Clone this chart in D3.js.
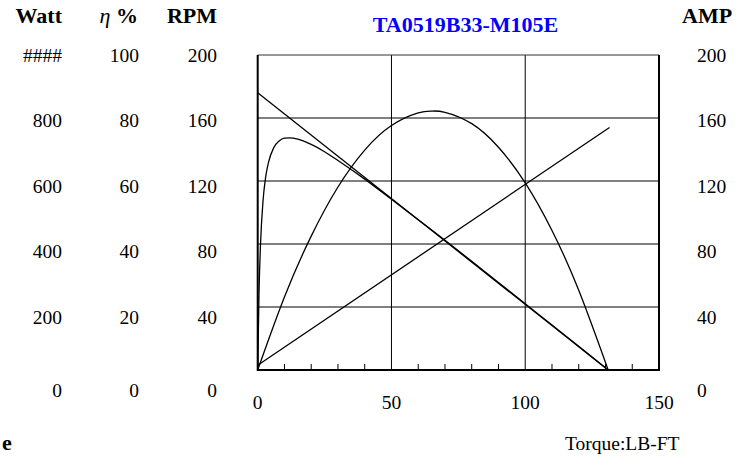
<!DOCTYPE html>
<html>
<head>
<meta charset="utf-8">
<script src="https://cdn.jsdelivr.net/npm/d3@7"></script>
<style>
  body { margin: 0; background: #fff; }
  svg { display: block; font-family: "Liberation Serif", "Times New Roman", serif; }
</style>
</head>
<body>
<div id="chart1"></div>
<script>
var w = 747,
  h = 456;

// plot area (plotTop, not top: window.top is read-only)
var plotLeft = 257.7, plotRight = 659, plotTop = 55, plotBottom = 370;

// data
var title = "TA0519B33-M105E";
var xTicks = [0, 50, 100, 150];
var xMinor = [10, 20, 30, 40, 60, 70, 80, 90, 110, 120, 130, 140];
var gridValues = [40, 80, 120, 160];

var wattLabels = ["####", "800", "600", "400", "200", "0"];
var effLabels = ["100", "80", "60", "40", "20", "0"];
var rpmLabels = ["200", "160", "120", "80", "40", "0"];
var ampLabels = ["200", "160", "120", "80", "40", "0"];
var rowValues = [200, 160, 120, 80, 40, 0];

var speedTorque = [0, 131];
var speedRpm = [176, 0];

var currentTorque = [0, 131.5];
var currentAmp = [3, 154];

var effTorque = [0, 0.5, 1, 2, 3, 4, 6, 8, 10, 12, 15, 20, 25, 30, 40, 50, 60, 70, 80, 90, 100, 110, 120, 131];
var effPct = [0, 25, 38.8, 53.8, 61.4, 65.8, 70.6, 72.7, 73.6, 73.7, 73.3, 71.6, 69.3, 66.5, 60.6, 54.2, 47.7, 41.2, 34.5, 27.8, 21.0, 14.3, 7.5, 0];

var powTorque = [0, 10, 20, 30, 40, 50, 60, 65, 70, 80, 90, 100, 110, 120, 131];
var powWatt = [0, 232, 425, 581, 698, 776, 816, 822, 818, 782, 707, 594, 443, 253, 0];

var regSize = "19.5px", boldSize = "22px";

draw();

function zip(xs, ys) {
  return xs.map(function (d, i) { return [d, ys[i]]; });
}

function column(container, labels, x, anchor, rowY) {
  container.append("g").selectAll("text").data(labels).enter().append("text")
    .attr("x", x).attr("y", function (d, i) { return rowY(rowValues[i]); })
    .attr("dy", "0.35em").attr("text-anchor", anchor)
    .style("font-size", regSize).text(function (d) { return d; });
}

function draw() {
  var svg = d3.select("#chart1").append("svg").attr("width", w).attr("height", h);

  var x = d3.scaleLinear().domain([0, 150]).range([plotLeft, plotRight]);
  var yRpm = d3.scaleLinear().domain([0, 200]).range([plotBottom, plotTop]);
  var yEff = d3.scaleLinear().domain([0, 100]).range([plotBottom, plotTop]);
  var yWatt = d3.scaleLinear().domain([0, 1000]).range([plotBottom, plotTop]);
  var yAmp = d3.scaleLinear().domain([0, 200]).range([plotBottom, plotTop]);
  // label rows sit a little off the grid, spacing widens towards the bottom
  var rowY = d3.scaleLinear().domain([0, 40, 200]).range([390, 317, 55]);

  // grid
  var grid = svg.append("g").style("stroke", "#000").style("stroke-width", 1);
  grid.selectAll("line.h").data(gridValues).enter().append("line").attr("class", "h")
    .attr("x1", plotLeft).attr("x2", plotRight)
    .attr("y1", function (d) { return yRpm(d); }).attr("y2", function (d) { return yRpm(d); });
  grid.selectAll("line.v").data([50, 100]).enter().append("line").attr("class", "v")
    .attr("y1", plotTop).attr("y2", plotBottom)
    .attr("x1", function (d) { return x(d); }).attr("x2", function (d) { return x(d); });
  grid.selectAll("line.m").data(xMinor).enter().append("line").attr("class", "m")
    .attr("y1", plotBottom).attr("y2", plotBottom - 6)
    .attr("x1", function (d) { return x(d); }).attr("x2", function (d) { return x(d); });

  // border: thin on top, heavier on the other sides
  svg.append("line").attr("x1", plotLeft).attr("x2", plotRight).attr("y1", plotTop).attr("y2", plotTop)
    .style("stroke", "#333").style("stroke-width", 1);
  svg.append("path").attr("d", "M" + plotLeft + "," + plotTop + "V" + plotBottom + "H" + plotRight + "V" + plotTop)
    .style("fill", "none").style("stroke", "#000").style("stroke-width", 2);

  // curves
  var curves = svg.append("g").style("fill", "none").style("stroke", "#000").style("stroke-width", 1.3);

  curves.append("path").datum(zip(speedTorque, speedRpm))
    .attr("d", d3.line().x(function (d) { return x(d[0]); }).y(function (d) { return yRpm(d[1]); }));
  curves.append("path").datum(zip(currentTorque, currentAmp))
    .attr("d", d3.line().x(function (d) { return x(d[0]); }).y(function (d) { return yAmp(d[1]); }));
  curves.append("path").datum(zip(effTorque, effPct))
    .attr("d", d3.line().curve(d3.curveMonotoneX).x(function (d) { return x(d[0]); }).y(function (d) { return yEff(d[1]); }));
  curves.append("path").datum(zip(powTorque, powWatt))
    .attr("d", d3.line().curve(d3.curveNatural).x(function (d) { return x(d[0]); }).y(function (d) { return yWatt(d[1]); }));

  // x tick labels
  svg.append("g").selectAll("text").data(xTicks).enter().append("text")
    .attr("x", function (d) { return x(d); }).attr("y", 402).attr("dy", "0.35em")
    .attr("text-anchor", "middle").style("font-size", regSize).text(function (d) { return d; });

  // value columns
  column(svg, wattLabels, 62, "end", rowY);
  column(svg, effLabels, 139, "end", rowY);
  column(svg, rpmLabels, 217, "end", rowY);
  column(svg, ampLabels, 697, "start", rowY);

  // headers
  var heads = svg.append("g").style("font-weight", "bold").style("font-size", boldSize);
  heads.append("text").attr("x", 62).attr("y", 15).attr("dy", "0.35em").attr("text-anchor", "end").text("Watt");
  var eta = heads.append("text").attr("x", 138).attr("y", 15).attr("dy", "0.35em").attr("text-anchor", "end");
  eta.append("tspan").style("font-style", "italic").style("font-weight", "normal").text("η");
  eta.append("tspan").text(" %");
  heads.append("text").attr("x", 217).attr("y", 15).attr("dy", "0.35em").attr("text-anchor", "end").text("RPM");
  heads.append("text").attr("x", 682).attr("y", 15).attr("dy", "0.35em").text("AMP");
  heads.append("text").attr("x", 2).attr("y", 442).attr("dy", "0.35em").text("e");

  svg.append("text").attr("x", 465.5).attr("y", 24).attr("dy", "0.35em").attr("text-anchor", "middle")
    .style("font-weight", "bold").style("font-size", boldSize).style("fill", "#0000ff").text(title);

  svg.append("text").attr("x", 565).attr("y", 443).attr("dy", "0.35em")
    .style("font-size", regSize).text("Torque:LB-FT");
}
</script>
</body>
</html>
